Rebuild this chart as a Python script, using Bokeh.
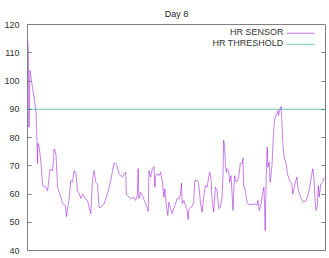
from bokeh.plotting import figure
from bokeh.models import Range1d, Span, LinearAxis, Label, BoxAnnotation, FixedTicker
from bokeh.embed import file_html
from bokeh.resources import INLINE

TITLE = "Day 8"
SERIES_NAMES = ["HR SENSOR", "HR THRESHOLD"]
Y_TICKS = [40, 50, 60, 70, 80, 90, 100, 110, 120]
THRESHOLD = 90

sample_t = [
    26.7, 27.3, 28, 29, 30.5, 32.3, 35, 36, 36.5, 37,
    38.5, 40, 41.7, 45, 46.7, 49, 51.7, 53.3, 55, 56.7,
    58.3, 60, 61.7, 64.3, 65.7, 66.7, 68.3, 70, 71.7, 73.3,
    75, 76.7, 78.3, 80, 81.7, 84.3, 86.7, 90, 91.7, 93.3,
    95, 96.7, 98.3, 100, 103.3, 106.7, 110, 113.3, 115, 116.7,
    118.3, 120, 121.7, 123.3, 125, 125.7, 126.7, 130, 133.3, 135,
    136.7, 137.5, 138.3, 140, 141.7, 145, 147.7, 148.3, 150, 151.7,
    153.3, 154.3, 155, 156.7, 158.3, 160, 161.7, 163.3, 164.3, 166,
    167.3, 168.3, 170, 171.7, 173.3, 175, 176.7, 178.3, 180, 181,
    181.7, 183.3, 185, 186.7, 187.7, 188.3, 190, 191.7, 193.3, 194.3,
    196.7, 198.3, 200, 201.7, 203.3, 205, 206.7, 208.3, 209.3, 210.7,
    211.7, 213.3, 215, 216.7, 218.3, 220, 221.7, 222.7, 223.3, 224.3,
    225, 226, 226.7, 228.3, 229.3, 230.7, 232.7, 233.3, 234.3, 236,
    238.3, 240, 241.7, 242.7, 243.3, 245, 246.7, 248.3, 251.7, 255,
    256.7, 257.7, 259, 261, 262.3, 263.7, 264.3, 265, 266, 267,
    267.7, 269, 270, 271.7, 273.3, 274.3, 275.7, 276.7, 277.7, 278.3,
    280, 281, 281.7, 282.7, 284, 286, 287.3, 289.3, 291.7, 292.7,
    295, 296.7, 298.3, 300.7, 303.3, 306, 308.3, 310.7, 312.7, 314,
    315, 316, 317.3, 318.3, 319.3, 320.7, 322.7, 324.3,
]

hr_sensor = [
    114.3, 110.2, 83.6, 103.7, 100, 96, 89.6, 79, 70.8, 78,
    76, 71, 63, 62.4, 61.2, 68.7, 68.3, 76, 74.3, 62.4,
    60.6, 58.9, 56.6, 56, 52, 54.9, 58.4, 64.8, 64.2, 68.3,
    67.2, 61.2, 60, 58.4, 60, 58.4, 57.7, 53, 64.8, 68.3,
    64.2, 63.5, 55.3, 55.2, 56.6, 60, 64.8, 70.8, 70.9, 69.5,
    67.2, 66.5, 66, 67, 67.7, 60, 59.5, 58.4, 58.8, 57.7,
    59.5, 69, 58.4, 60.6, 59.5, 56.6, 53.9, 68.3, 66, 69,
    69.7, 62.4, 66.5, 67.2, 66.5, 67.7, 64.8, 58.9, 61.9, 55.3,
    52.4, 57.1, 54.9, 53, 54.9, 56.6, 58.4, 58.2, 60, 63.8,
    56.6, 57.7, 56, 54.2, 51, 54.2, 55.2, 55.6, 57.1, 64.8,
    64.8, 63.6, 57.1, 53.6, 58.9, 63, 62.4, 66, 67.7, 65.4,
    57.7, 53.6, 62.4, 61.2, 54.9, 55.2, 58.9, 67.2, 79, 76.6,
    70.8, 67.7, 69, 68.3, 64.2, 66.5, 54.2, 60, 66.5, 64.2,
    65.4, 70.8, 70.8, 72.8, 63, 61.2, 57.1, 56.3, 56.2, 56.5,
    56, 57.7, 54.2, 56.5, 60, 62.4, 56.5, 47.1, 66, 76.6,
    69.5, 71.3, 64.2, 69.5, 81.3, 86, 87.8, 88.4, 89.6, 87.8,
    90.2, 91, 86, 77.8, 73, 70.7, 67.2, 64.8, 63.6, 60,
    63.6, 66, 61.2, 58.9, 57.1, 57.5, 60, 64.8, 68.9, 65.4,
    57.7, 54.2, 55.6, 63, 58.9, 63.6, 64.2, 66,
]

SENSOR_COLOR = "#9400d3"
THRESH_COLOR = "#009e73"
FONT = "Liberation Sans"

p = figure(width=329, height=258, output_backend="svg", toolbar_location=None,
           x_range=Range1d(26.5, 325.5), y_range=Range1d(40, 120),
           x_axis_type=None, title=TITLE,
           min_border_left=27, min_border_right=4, min_border_top=24, min_border_bottom=8)

p.title.align = "center"
p.title.text_font = FONT
p.title.text_font_size = "9px"
p.title.text_font_style = "normal"
p.title.text_color = "#222222"
p.title.standoff = 12

p.outline_line_color = "#808080"
p.outline_line_width = 1
p.xgrid.visible = False
p.ygrid.visible = False
p.background_fill_color = "white"
p.border_fill_color = "white"

ya = p.yaxis[0]
ya.ticker = FixedTicker(ticks=Y_TICKS)
ya.major_tick_in = 4
ya.major_tick_out = 0
ya.minor_tick_in = 0
ya.minor_tick_out = 0
ya.axis_line_color = None
ya.major_tick_line_color = "#808080"
ya.major_label_text_font = FONT
ya.major_label_text_font_size = "9px"
ya.major_label_text_color = "#333333"
ya.major_label_standoff = 8

ra = LinearAxis(ticker=FixedTicker(ticks=Y_TICKS[1:-1]))
ra.major_tick_in = 4
ra.major_tick_out = 0
ra.minor_tick_in = 0
ra.minor_tick_out = 0
ra.axis_line_color = None
ra.major_tick_line_color = "#808080"
ra.major_label_overrides = {t: "" for t in Y_TICKS}
ra.major_label_standoff = 0
p.add_layout(ra, "right")

p.line(sample_t, hr_sensor, line_color=SENSOR_COLOR, line_width=1, line_alpha=0.5)
p.add_layout(Span(location=THRESHOLD, dimension="width", line_color=THRESH_COLOR,
                  line_width=1, line_alpha=0.6))

# legend (gnuplot-style: text then sample line); screen units are frame-relative
for i, (name, col) in enumerate(zip(SERIES_NAMES, [SENSOR_COLOR, THRESH_COLOR])):
    ty = 218.3 - 11 * i
    p.add_layout(Label(x=256, y=ty, x_units="screen", y_units="screen", text=name,
                       text_align="right", text_baseline="middle", text_font=FONT,
                       text_font_size="9px", text_color="#333333"))
    p.add_layout(BoxAnnotation(left=259, right=287, bottom=ty - 1.5, top=ty - 0.5,
                               left_units="screen", right_units="screen",
                               bottom_units="screen", top_units="screen",
                               fill_color=col, fill_alpha=0.55, line_color=None))

open("out.html", "w").write(file_html(p, INLINE))
